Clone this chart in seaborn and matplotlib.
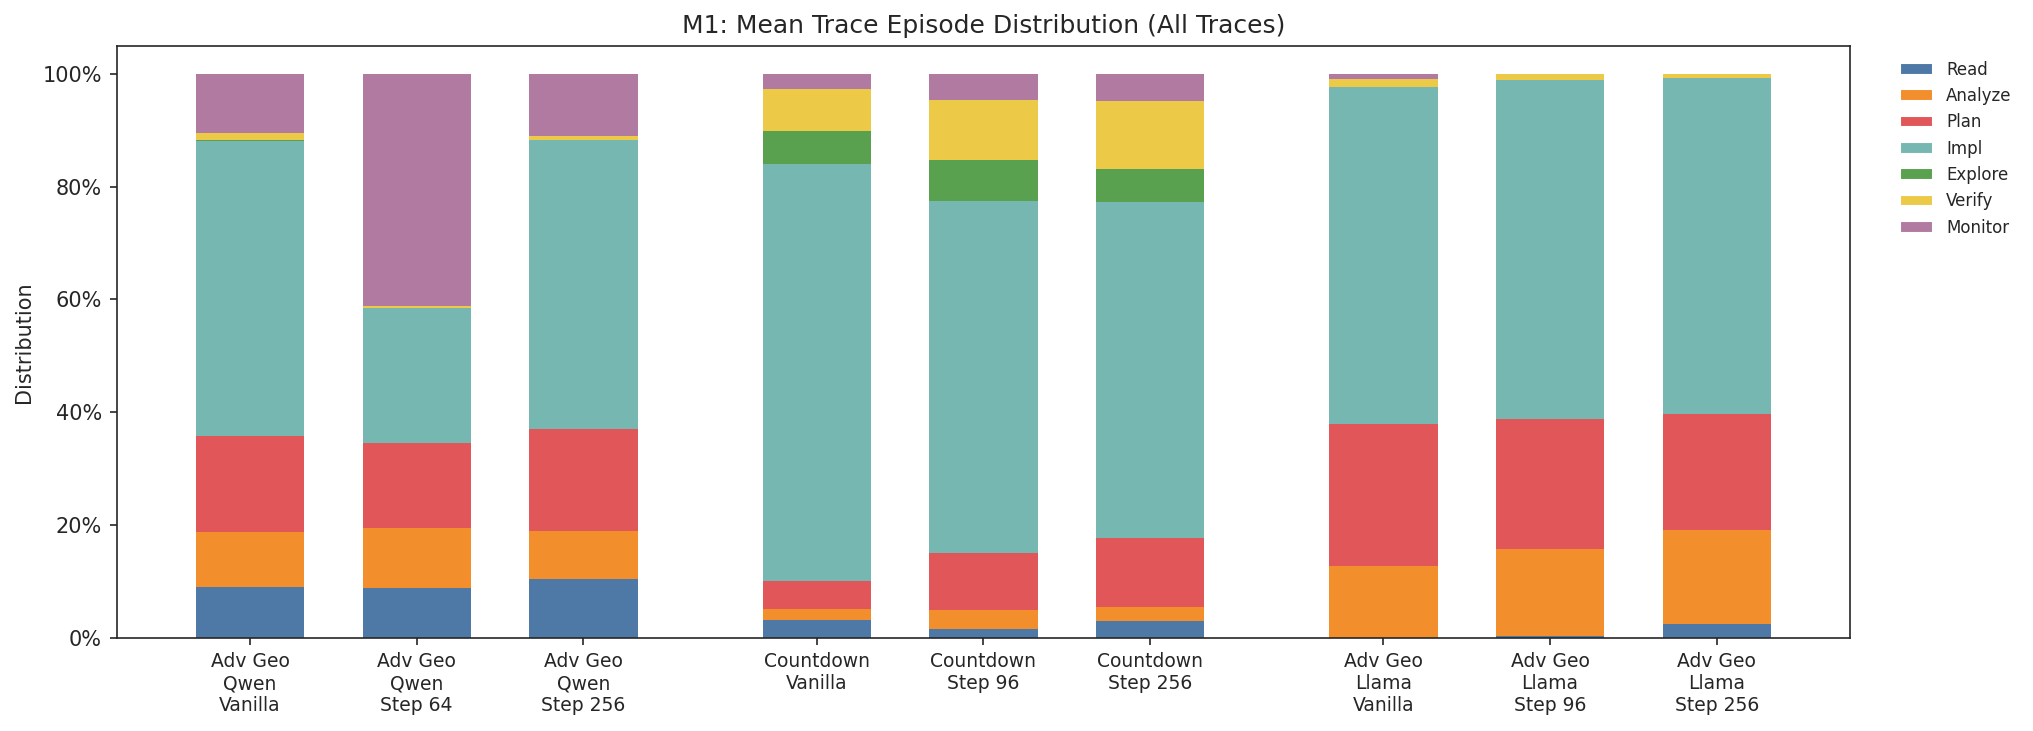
import numpy as np
import pandas as pd
import matplotlib
matplotlib.use("Agg")
import matplotlib.pyplot as plt
from matplotlib.ticker import PercentFormatter
from matplotlib.patches import Patch
import seaborn as sns

# --- data (percent of episodes per phase) ---
conditions = [
    "Adv Geo\nQwen\nVanilla", "Adv Geo\nQwen\nStep 64", "Adv Geo\nQwen\nStep 256",
    "Countdown\nVanilla", "Countdown\nStep 96", "Countdown\nStep 256",
    "Adv Geo\nLlama\nVanilla", "Adv Geo\nLlama\nStep 96", "Adv Geo\nLlama\nStep 256",
]
groups = [0, 0, 0, 1, 1, 1, 2, 2, 2]
phases = ["Read", "Analyze", "Plan", "Impl", "Explore", "Verify", "Monitor"]

read = [9.0, 8.8, 10.4, 3.1, 1.6, 2.9, 0.0, 0.3, 2.4]
analyze = [9.7, 10.7, 8.5, 2.0, 3.4, 2.5, 12.7, 15.4, 16.7]
plan = [17.0, 15.1, 18.1, 5.0, 10.1, 12.3, 25.2, 23.1, 20.6]
impl = [52.4, 23.8, 51.3, 74.0, 62.4, 59.6, 59.7, 60.2, 59.6]
explore = [0.1, 0.0, 0.0, 5.8, 7.3, 5.8, 0.1, 0.0, 0.0]
verify = [1.3, 0.5, 0.7, 7.5, 10.6, 12.1, 1.4, 0.9, 0.6]
monitor = [10.5, 41.1, 11.0, 2.6, 4.6, 4.8, 0.9, 0.1, 0.1]

colors = ["#4e79a7", "#f28e2b", "#e15759", "#76b7b2", "#59a14f", "#edc948", "#b07aa1"]

sns.set_style("ticks")

values = np.array([read, analyze, plan, impl, explore, verify, monitor]) / 100.0
cum = np.cumsum(values, axis=0)
pos = np.arange(len(conditions)) + 0.4 * np.array(groups)

fig, ax = plt.subplots(figsize=(2033 / 150, 731 / 150), dpi=150)
fig.subplots_adjust(left=0.0574, right=0.910, top=0.9375, bottom=0.1276)

# draw cumulative tops from the highest layer down so lower phases sit on top
for i in range(len(phases) - 1, -1, -1):
    df = pd.DataFrame({"x": pos, "y": cum[i]})
    sns.barplot(data=df, x="x", y="y", native_scale=True, width=0.65,
                color=colors[i], saturation=1, linewidth=0, ax=ax)

ax.set_xticks(pos)
ax.set_xticklabels(conditions, fontsize=9)
ax.set_xlim(-0.8, 9.6)
ax.set_ylim(0, 1.05)
ax.set_yticks([0, 0.2, 0.4, 0.6, 0.8, 1.0])
ax.yaxis.set_major_formatter(PercentFormatter(1.0, decimals=0))
ax.tick_params(axis="y", labelsize=10)
ax.set_xlabel("")
ax.set_ylabel("Distribution", fontsize=10)
ax.set_title("M1: Mean Trace Episode Distribution (All Traces)", fontsize=12)

handles = [Patch(facecolor=c, label=p) for c, p in zip(colors, phases)]
ax.legend(handles=handles, loc="upper left", bbox_to_anchor=(1.02, 1),
          frameon=False, fontsize=8)

fig.savefig("out.png", dpi=150)
